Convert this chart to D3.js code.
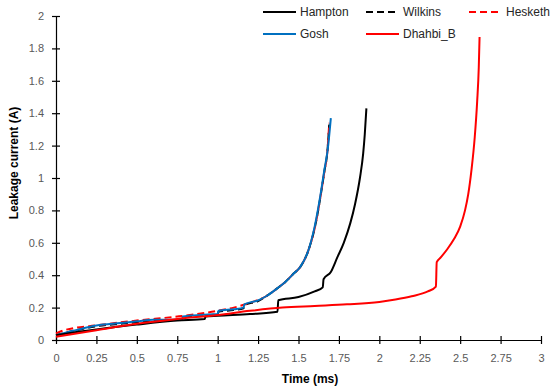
<!DOCTYPE html>
<html>
<head>
<meta charset="utf-8">
<script src="https://cdn.jsdelivr.net/npm/d3@7"></script>
<style>
  body { margin: 0; background: #fff; }
  text { font-family: "Liberation Sans", Arial, sans-serif; }
</style>
</head>
<body>
<div id="chart"></div>
<script>
// time (ms) / leakage current (A)
const hamptonT = [0, 0.1, 0.25, 0.5, 0.75, 0.92, 0.925, 1.0, 1.2, 1.37, 1.375, 1.5, 1.6, 1.65, 1.655, 1.7, 1.74, 1.78, 1.82, 1.85, 1.88, 1.9, 1.91, 1.92];
const hamptonV = [0.03, 0.045, 0.065, 0.095, 0.12, 0.13, 0.145, 0.15, 0.16, 0.175, 0.245, 0.265, 0.3, 0.325, 0.375, 0.42, 0.51, 0.6, 0.72, 0.84, 1.0, 1.15, 1.27, 1.43];

const wilkinsT = [0, 0.1, 0.25, 0.4, 0.5, 0.6, 0.78, 0.785, 0.9, 1.0, 1.005, 1.1, 1.16, 1.165, 1.25, 1.3, 1.37, 1.42, 1.47, 1.51, 1.56, 1.6, 1.64, 1.66, 1.68, 1.69];
const wilkinsV = [0.03, 0.055, 0.085, 0.1, 0.11, 0.12, 0.125, 0.14, 0.15, 0.16, 0.175, 0.185, 0.195, 0.215, 0.24, 0.27, 0.32, 0.36, 0.41, 0.45, 0.55, 0.69, 0.91, 1.04, 1.18, 1.33];

const heskethT = [0, 0.05, 0.25, 0.5, 0.75, 1.0, 1.1, 1.2, 1.3, 1.37, 1.42, 1.47, 1.51, 1.56, 1.6, 1.64, 1.66, 1.68, 1.69];
const heskethV = [0.04, 0.06, 0.09, 0.12, 0.145, 0.18, 0.2, 0.23, 0.27, 0.32, 0.36, 0.41, 0.45, 0.55, 0.69, 0.91, 1.04, 1.18, 1.34];

const goshT = [0, 0.1, 0.25, 0.4, 0.5, 0.6, 0.78, 0.785, 0.9, 1.0, 1.005, 1.1, 1.16, 1.165, 1.25, 1.3, 1.37, 1.42, 1.47, 1.51, 1.56, 1.6, 1.64, 1.66, 1.68, 1.7];
const goshV = [0.03, 0.055, 0.09, 0.105, 0.115, 0.125, 0.125, 0.145, 0.155, 0.16, 0.18, 0.19, 0.2, 0.22, 0.245, 0.27, 0.32, 0.36, 0.41, 0.45, 0.55, 0.7, 0.92, 1.05, 1.17, 1.37];

const dhahbiT = [0, 0.25, 0.5, 0.75, 1.0, 1.2, 1.4, 1.6, 1.8, 2.0, 2.1, 2.2, 2.3, 2.35, 2.355, 2.38, 2.42, 2.46, 2.5, 2.53, 2.55, 2.57, 2.59, 2.605, 2.615, 2.62];
const dhahbiV = [0.02, 0.06, 0.1, 0.13, 0.155, 0.18, 0.2, 0.21, 0.22, 0.235, 0.25, 0.27, 0.3, 0.33, 0.48, 0.51, 0.56, 0.62, 0.7, 0.8, 0.9, 1.05, 1.25, 1.47, 1.68, 1.87];

const xTicks = [0, 0.25, 0.5, 0.75, 1, 1.25, 1.5, 1.75, 2, 2.25, 2.5, 2.75, 3];
const yTicks = [0, 0.2, 0.4, 0.6, 0.8, 1, 1.2, 1.4, 1.6, 1.8, 2];

const series = [
  { name: 'Wilkins', t: wilkinsT, v: wilkinsV, color: '#000000', dash: '7,4' },
  { name: 'Hesketh', t: heskethT, v: heskethV, color: '#ff0000', dash: '7,4' },
  { name: 'Gosh', t: goshT, v: goshV, color: '#0070c0', dash: null },
  { name: 'Hampton', t: hamptonT, v: hamptonV, color: '#000000', dash: null },
  { name: 'Dhahbi_B', t: dhahbiT, v: dhahbiV, color: '#ff0000', dash: null },
];

const svg = d3.select('#chart').append('svg')
  .attr('width', 550)
  .attr('height', 392);

const margin = { top: 16, right: 9, bottom: 52, left: 56 };
const width = 550 - margin.left - margin.right;
const height = 392 - margin.top - margin.bottom;

const g = svg.append('g')
  .attr('transform', `translate(${margin.left},${margin.top})`);

const x = d3.scaleLinear().domain([0, 3]).range([0, width]);
const y = d3.scaleLinear().domain([0, 2]).range([height, 0]);

const fmt = (d) => String(d);

// axes with crossing tick marks
const xAxis = g.append('g')
  .attr('transform', `translate(0,${height})`)
  .call(d3.axisBottom(x).tickValues(xTicks).tickFormat(fmt).tickSizeInner(4).tickSizeOuter(0).tickPadding(10));
xAxis.selectAll('.tick line').attr('y1', -4).attr('y2', 4);

const yAxis = g.append('g')
  .call(d3.axisLeft(y).tickValues(yTicks).tickFormat(fmt).tickSizeInner(4).tickSizeOuter(0).tickPadding(8));
yAxis.selectAll('.tick line').attr('x1', -4).attr('x2', 4);

g.selectAll('.domain, .tick line').attr('stroke', '#000').attr('stroke-width', 1.2);
g.selectAll('.tick text')
  .attr('fill', '#595959')
  .style('font-family', '"Liberation Sans", Arial, sans-serif')
  .style('font-size', '11px');

const line = d3.line()
  .curve(d3.curveMonotoneX)
  .x((d) => x(d[0]))
  .y((d) => y(d[1]));

series.forEach((s) => {
  g.append('path')
    .datum(s.t.map((t, i) => [t, s.v[i]]))
    .attr('fill', 'none')
    .attr('stroke', s.color)
    .attr('stroke-width', 2)
    .attr('stroke-dasharray', s.dash)
    .attr('d', line);
});

// axis titles
svg.append('text')
  .attr('x', 310)
  .attr('y', 383)
  .attr('text-anchor', 'middle')
  .style('font-size', '12px')
  .style('font-weight', 'bold')
  .attr('fill', '#000')
  .text('Time (ms)');

svg.append('text')
  .attr('transform', 'translate(18,163) rotate(-90)')
  .attr('text-anchor', 'middle')
  .style('font-size', '12px')
  .style('font-weight', 'bold')
  .attr('fill', '#000')
  .text('Leakage current (A)');

// legend
const legend = [
  { name: 'Hampton', color: '#000000', dash: null, x: 263, y: 12 },
  { name: 'Wilkins', color: '#000000', dash: '7,4', x: 366, y: 12 },
  { name: 'Hesketh', color: '#ff0000', dash: '7,4', x: 469, y: 12 },
  { name: 'Gosh', color: '#0070c0', dash: null, x: 263, y: 34 },
  { name: 'Dhahbi_B', color: '#ff0000', dash: null, x: 366, y: 34 },
];

const lg = svg.append('g').selectAll('g').data(legend).enter().append('g')
  .attr('transform', (d) => `translate(${d.x},${d.y})`);
lg.append('line')
  .attr('x1', 0).attr('x2', 33)
  .attr('stroke', (d) => d.color)
  .attr('stroke-width', 2)
  .attr('stroke-dasharray', (d) => d.dash);
lg.append('text')
  .attr('x', 37)
  .attr('dy', '0.35em')
  .style('font-size', '12px')
  .attr('fill', '#262626')
  .text((d) => d.name);
</script>
</body>
</html>
